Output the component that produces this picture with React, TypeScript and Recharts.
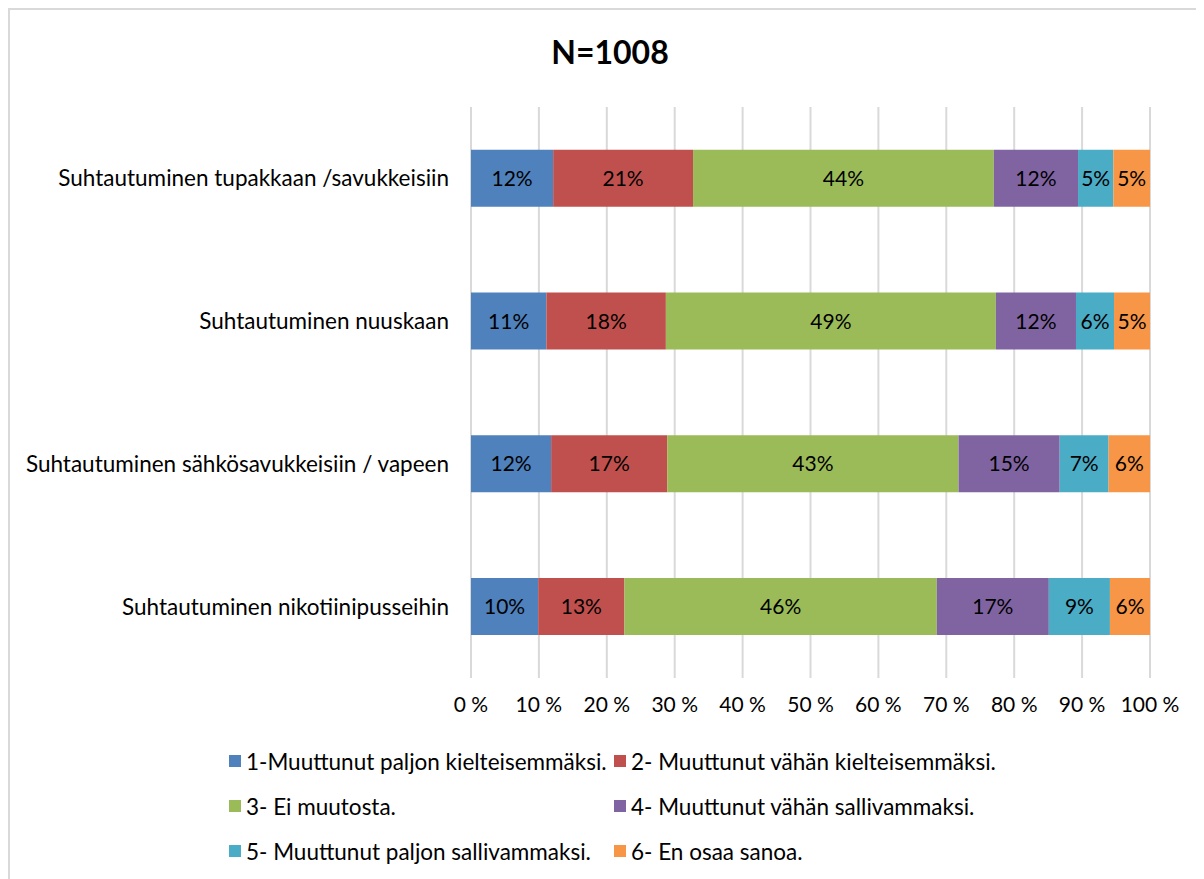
import { BarChart, Bar, XAxis, YAxis, CartesianGrid, LabelList } from "recharts";

// Categories (top to bottom)
const categories = [
  "Suhtautuminen tupakkaan /savukkeisiin",
  "Suhtautuminen nuuskaan",
  "Suhtautuminen sähkösavukkeisiin / vapeen",
  "Suhtautuminen nikotiinipusseihin",
];

// Share of answers (%) per option
const paljonKielteisemmaksi = [12.1, 11.1, 11.8, 9.9];
const vahanKielteisemmaksi = [20.6, 17.6, 17.1, 12.7];
const eiMuutosta = [44.3, 48.6, 42.9, 46.0];
const vahanSallivammaksi = [12.4, 11.8, 14.9, 16.5];
const paljonSallivammaksi = [5.2, 5.6, 7.2, 9.0];
const enOsaaSanoa = [5.4, 5.3, 6.1, 5.9];

const xTicks = [0, 10, 20, 30, 40, 50, 60, 70, 80, 90, 100];

const series = [
  { key: "s1", name: "1-Muuttunut paljon kielteisemmäksi.", color: "#4f81bd", values: paljonKielteisemmaksi },
  { key: "s2", name: "2- Muuttunut vähän kielteisemmäksi.", color: "#c0504d", values: vahanKielteisemmaksi },
  { key: "s3", name: "3- Ei muutosta.", color: "#9bbb59", values: eiMuutosta },
  { key: "s4", name: "4- Muuttunut vähän sallivammaksi.", color: "#8064a2", values: vahanSallivammaksi },
  { key: "s5", name: "5- Muuttunut paljon sallivammaksi.", color: "#4bacc6", values: paljonSallivammaksi },
  { key: "s6", name: "6- En osaa sanoa.", color: "#f79646", values: enOsaaSanoa },
];

const data = categories.map((name, i) => {
  const row: any = { name };
  series.forEach((s) => (row[s.key] = s.values[i]));
  return row;
});

const FONT = "Lato, 'Open Sans', sans-serif";

function LegendBox() {
  return (
    <div
      style={{
        position: "absolute",
        left: 219,
        top: 739,
        display: "grid",
        gridTemplateColumns: "385px 420px",
        rowGap: 21,
        fontFamily: FONT,
        fontSize: 22.5,
        color: "#000",
      }}
    >
      {series.map((s) => (
        <div key={s.key} style={{ display: "flex", alignItems: "center", height: 24, whiteSpace: "nowrap" }}>
          <span style={{ width: 12, height: 12, flexShrink: 0, background: s.color, display: "inline-block", marginRight: 5 }} />
          {s.name}
        </div>
      ))}
    </div>
  );
}

export default function App() {
  return (
    <div style={{ position: "relative", width: 1186, height: 890, border: "2px solid #d9d9d9", background: "#fff" }}>
      <div style={{ position: "absolute", left: 0, top: 22, width: 1200, textAlign: "center", fontFamily: FONT, fontWeight: 700, fontSize: 32 }}>
        N=1008
      </div>
      <BarChart
        width={1186}
        height={890}
        data={data}
        layout="vertical"
        barCategoryGap="30%"
        margin={{ top: 97, right: 46, bottom: 10, left: 0 }}
      >
        <CartesianGrid horizontal={false} stroke="#d9d9d9" strokeWidth={2} />
        <XAxis
          type="number"
          domain={[0, 100]}
          ticks={xTicks}
          tickFormatter={(v) => `${v} %`}
          axisLine={false}
          tickLine={false}
          tickMargin={13}
          height={212}
          tick={{ fill: "#000", fontSize: 21, fontFamily: FONT }}
        />
        <YAxis
          type="category"
          dataKey="name"
          width={461}
          axisLine={false}
          tickLine={false}
          tickMargin={16}
          tick={{ fill: "#000", fontSize: 22.5, fontFamily: FONT }}
        />
        {series.map((s) => (
          <Bar key={s.key} dataKey={s.key} name={s.name} stackId="a" fill={s.color} isAnimationActive={false}>
            <LabelList
              dataKey={s.key}
              position="center"
              formatter={(v: any) => `${Math.round(Number(v))}%`}
              style={{ fill: "#000", fontSize: 21, fontFamily: FONT }}
            />
          </Bar>
        ))}
      </BarChart>
      <LegendBox />
    </div>
  );
}
